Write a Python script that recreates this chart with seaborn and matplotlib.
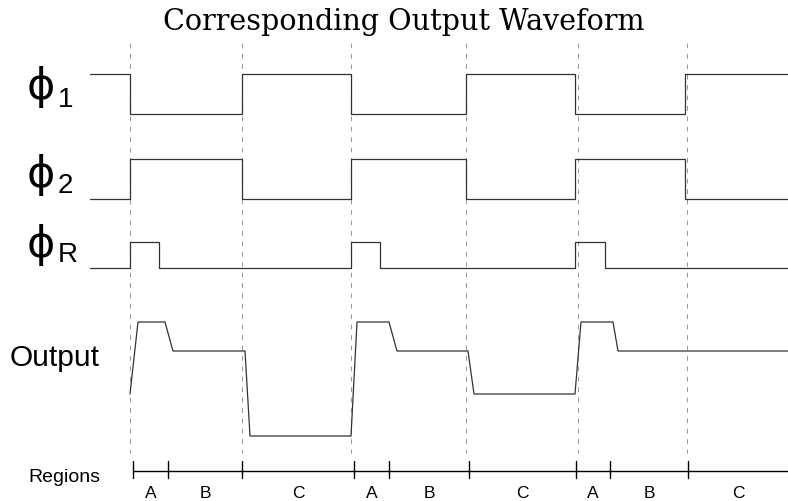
import matplotlib
matplotlib.use("Agg")
import matplotlib.pyplot as plt
import seaborn as sns
import pandas as pd

sns.set_theme(style="white")
plt.rcParams['font.family'] = ['Liberation Sans', 'DejaVu Sans']

# ---- data (time axis in pixel-like units, levels) ----
title = "Corresponding Output Waveform"

phi1_t = [90, 130, 242, 351, 466, 575, 685, 788]
phi1_v = [1, 0, 1, 0, 1, 0, 1, 1]

phi2_t = [90, 130, 242, 351, 466, 575, 685, 788]
phi2_v = [0, 1, 0, 1, 0, 1, 0, 0]

phiR_t = [90, 130, 159, 351, 380, 575, 605, 788]
phiR_v = [0, 1, 0, 1, 0, 1, 0, 0]

out_t = [130, 138, 165, 173, 245, 250, 351, 357, 389, 397, 468, 474, 575, 581, 613, 618, 788]
out_y = [395, 323, 323, 352, 352, 437, 437, 323, 323, 352, 352, 395, 395, 323, 323, 352, 352]

guide_t = [130, 242, 351, 466, 578, 687]

region_ticks = [133, 168, 242, 354, 389, 469, 576, 610, 688, 788]
region_labels = ["A", "B", "C", "A", "B", "C", "A", "B", "C"]

signal_names = ["1", "2", "R"]

# ---- layout / style ----
W, H = 788, 502
fig = plt.figure(figsize=(W / 100, H / 100), dpi=100)
ax = fig.add_axes([0, 0, 1, 1])
ax.set_xlim(0, W)
ax.set_ylim(H, 0)
ax.axis("off")

line_col = "#333333"
lw = 0.9

# level placements (high y, low y) for each clock
levels = {"1": (75, 115), "2": (160, 200), "R": (243, 269)}
series = {"1": (phi1_t, phi1_v), "2": (phi2_t, phi2_v), "R": (phiR_t, phiR_v)}

for name in signal_names:
    t, v = series[name]
    hi, lo = levels[name]
    y = [hi if s else lo for s in v]
    df = pd.DataFrame({"t": t, "y": y})
    sns.lineplot(data=df, x="t", y="y", ax=ax, sort=False, estimator=None,
                 color=line_col, lw=lw, drawstyle="steps-post")

df_out = pd.DataFrame({"t": out_t, "y": out_y})
sns.lineplot(data=df_out, x="t", y="y", ax=ax, sort=False, estimator=None,
             color=line_col, lw=lw)

# dashed guides
for gx in guide_t:
    ax.plot([gx, gx], [44, 454], color="#9a9a9a", lw=0.75,
            linestyle=(0, (4.5, 5.5)), zorder=0)

# regions ruler
ax.plot([region_ticks[0], region_ticks[-1]], [472, 472], color="black", lw=1.0)
for tx in region_ticks[:-1]:
    ax.plot([tx, tx], [462, 478.5], color="black", lw=1.0)
for i, lab in enumerate(region_labels):
    cx = (region_ticks[i] + region_ticks[i + 1]) / 2
    ax.text(cx, 498, lab, ha="center", va="baseline", fontsize=12.5, color="black")

ax.text(28, 482, "Regions", ha="left", va="baseline", fontsize=14, color="black")
ax.text(10, 366, "Output", ha="left", va="baseline", fontsize=21.5, color="black")

# phi labels
phi_base = {"1": 99, "2": 187, "R": 257}
sub_base = {"1": 107, "2": 193, "R": 262}
for name in signal_names:
    ax.text(40.5, phi_base[name], "\u03d5", ha="center", va="baseline",
            fontsize=31, color="black", family=["DejaVu Sans"])
    ax.text(58, sub_base[name], name, ha="left", va="baseline",
            fontsize=20, color="black")

# title, scaled to measured width
t_obj = ax.text(404, 30, title, ha="center", va="baseline", fontsize=21,
                color="black", family=["DejaVu Serif"])
fig.canvas.draw()
r = fig.canvas.get_renderer()
wpx = t_obj.get_window_extent(r).width
t_obj.set_fontsize(21 * 482 / wpx)

fig.savefig("out.png", dpi=100)
